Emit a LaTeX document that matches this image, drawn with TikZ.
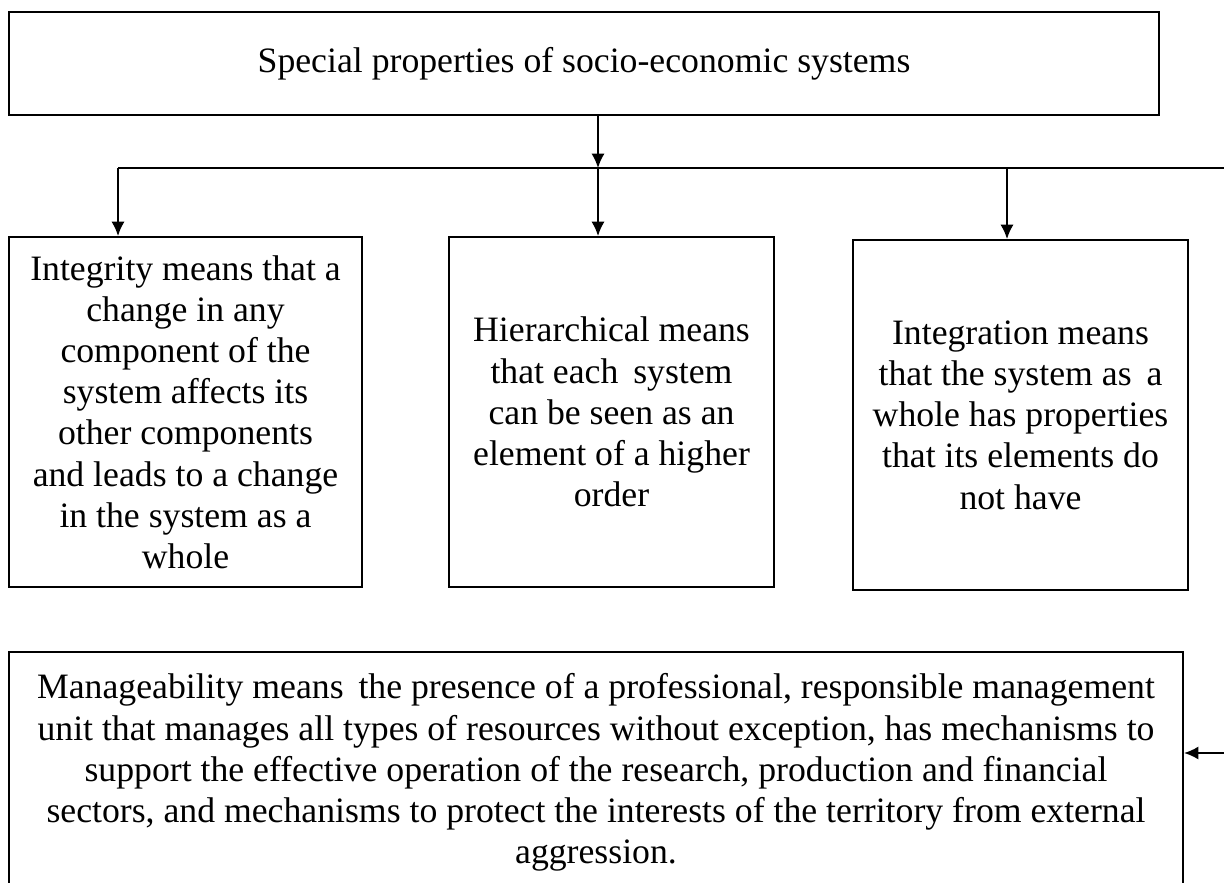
\documentclass[tikz,border=0pt]{standalone}
\usepackage{fontspec}
\setmainfont{Liberation Serif}
\usetikzlibrary{arrows.meta}

\begin{document}
\begin{tikzpicture} [x = 0.025cm, y = -0.025cm, line width = 1.3pt,
  box/.style = {draw, inner sep = 0pt, align = center, font = \fontsize{25.4}{29.3}\selectfont},
  arr/.style = {-{Latex[length = 3.6mm, width = 3.3mm]}}]
\useasboundingbox (0, 0) rectangle (1224, 882);
\clip (0, 0) rectangle (1224, 882);
\node[box, minimum width = 28.75cm, minimum height = 2.575cm] (top) at (584, 63.5) {Special properties of socio-economic systems};
\node[box, minimum width = 8.825cm, minimum height = 8.75cm] (integ) at (185.5, 412) {Integrity means that a\\ change in any\\ component of the\\ system affects its\\ other components\\ and leads to a change\\ in the system as a\\ whole};
\node[box, minimum width = 8.125cm, minimum height = 8.75cm] (hier) at (611.5, 412) {Hierarchical means\\ that each\, system\\ can be seen as an\\ element of a higher\\ order};
\node[box, minimum width = 8.375cm, minimum height = 8.75cm] (integr) at (1020.5, 415) {Integration means\\ that the system as\, a\\ whole has properties\\ that its elements do\\ not have};
\node[box, minimum width = 29.35cm, minimum height = 6.025cm] (manag) at (596, 772.5) {Manageability means\, the presence of a professional, responsible management\\ unit that manages all types of resources without exception, has mechanisms to\\ support the effective operation of the research, production and financial\\ sectors, and mechanisms to protect the interests of the territory from external\\ aggression.};
\coordinate (split) at (598, 168);
\coordinate (bus1) at (118, 168);
\coordinate (bus3) at (1007, 168);
\coordinate (busR) at (1235, 168);
\coordinate (back) at (1235, 753);
\draw[arr] (top.south -| split) -- (split);
\draw (bus1) -- (busR) -- (back);
\draw[arr] (back) -- (back -| manag.east);
\draw[arr] (bus1) -- (bus1 |- integ.north);
\draw[arr] (split) -- (split |- hier.north);
\draw[arr] (bus3) -- (bus3 |- integr.north);
\end{tikzpicture}
\end{document}
